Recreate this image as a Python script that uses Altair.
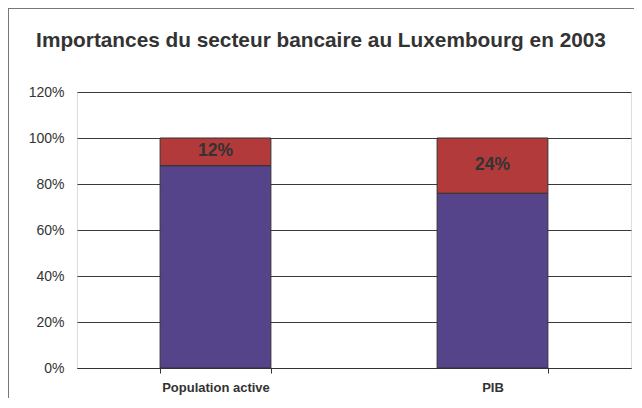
import altair as alt
import pandas as pd

categories = ["Population active", "PIB"]
autres = [0.88, 0.76]
banque = [0.12, 0.24]
series_names = ["Autres secteurs", "Secteur bancaire"]
colors = ["#55448A", "#B23A3A"]
y_ticks = [0, 0.2, 0.4, 0.6, 0.8, 1.0, 1.2]

rows = []
for c, a, b in zip(categories, autres, banque):
    rows.append({"cat": c, "serie": series_names[0], "val": a, "ordre": 0})
    rows.append({"cat": c, "serie": series_names[1], "val": b, "ordre": 1})
df = pd.DataFrame(rows)
lab = pd.DataFrame({"cat": categories, "base": autres, "val": banque})

xscale = alt.Scale(paddingInner=0.6, paddingOuter=0.3)
xenc = alt.X("cat:N", sort=categories, scale=xscale, title=None,
             axis=alt.Axis(labelAngle=0, labelFont="Liberation Sans", labelFontWeight="bold",
                           labelFontSize=13, labelColor="#333333", labelPadding=8,
                           tickBand="extent", tickSize=5, tickColor="#333333",
                           domainColor="#333333", grid=False))

bars = alt.Chart(df).mark_bar(stroke="#333333", strokeWidth=1).encode(
    x=xenc,
    y=alt.Y("val:Q", stack="zero", scale=alt.Scale(domain=[0, 1.2], nice=False), title=None,
            axis=alt.Axis(values=y_ticks, format=".0%", labelFont="Liberation Sans",
                          labelFontSize=14, labelColor="#333333", labelPadding=13,
                          ticks=False, domain=False, grid=True, gridColor="#3a3a3a",
                          gridWidth=1, gridOpacity=1)),
    color=alt.Color("serie:N", scale=alt.Scale(domain=series_names, range=colors), legend=None),
    order=alt.Order("ordre:Q"),
)

text = alt.Chart(lab).transform_calculate(
    mid="datum.base + datum.val / 2"
).mark_text(font="Liberation Sans", fontWeight="bold", fontSize=17.5, color="#333333",
            baseline="middle", dy=-1).encode(
    x=alt.X("cat:N", sort=categories, scale=xscale),
    y=alt.Y("mid:Q"),
    text=alt.Text("val:Q", format=".0%"),
)

left_border = alt.Chart(lab).mark_rule(color="#777777", strokeWidth=1).encode(
    x=alt.value(-68.5), y=alt.value(-84), y2=alt.value(320))
top_border = alt.Chart(lab).mark_rule(color="#777777", strokeWidth=1).encode(
    x=alt.value(-69), x2=alt.value(560), y=alt.value(-83.5))

chart = alt.layer(bars, text, left_border, top_border).properties(
    width=554, height=276,
    autosize=alt.AutoSizeParams(type="none"),
    padding={"left": 69, "top": 84, "right": 3, "bottom": 30},
    title=alt.TitleParams("Importances du secteur bancaire au Luxembourg en 2003",
                          font="Liberation Sans", fontSize=20.8, fontWeight="bold",
                          color="#333333", anchor="middle", dx=-33, offset=-60,
                          baseline="alphabetic"),
).configure_view(fill="#C6C9CE", stroke="#8a8a8a", strokeWidth=1).configure(background="white")

chart.save("out.html", embed_options={"renderer": "svg", "actions": False})
